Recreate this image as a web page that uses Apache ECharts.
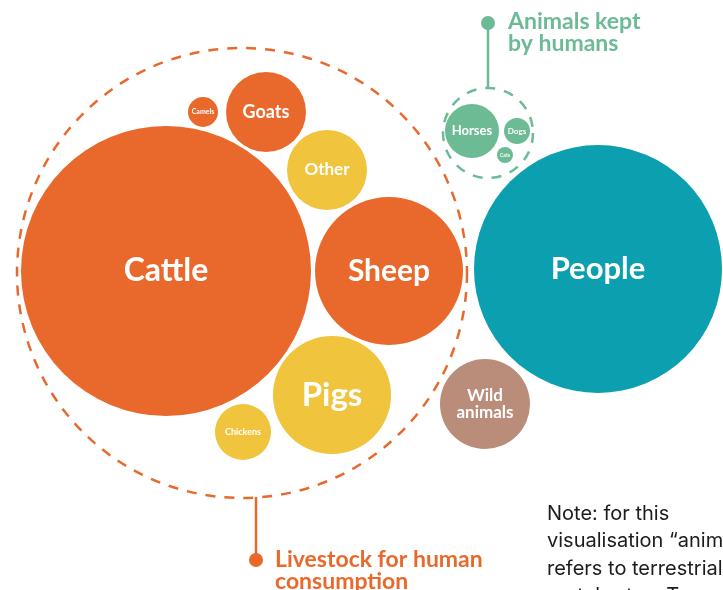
<!DOCTYPE html>
<html><head><meta charset="utf-8">
<script src="https://cdn.jsdelivr.net/npm/echarts@6/dist/echarts.min.js"></script>
<style>html,body{margin:0;padding:0;background:#fff;}#c{width:723px;height:590px;}</style>
</head><body><div id="c"></div>
<script>
// Bubble layout (x, y in chart units; radius in chart units)
const names   = ['Cattle','Sheep','Pigs','Other','Goats','Camels','Chickens','People','Wild\nanimals','Horses','Dogs','Cats'];
const groups  = ['livestock','livestock','livestock2','livestock2','livestock','livestock','livestock2','people','wild','kept','kept','kept'];
const xs      = [166, 389, 332, 327, 266, 203, 243, 598, 485, 472, 517, 505];
const ys      = [271, 271, 395, 170, 112, 112, 432, 269, 404, 131, 131, 155];
const radii   = [145,  74,  59,  40,  40,  15,  28, 124,  45,  27,  13,   8];
const labelSizes = [32, 30, 33, 17, 18, 7, 9, 31, 17, 13, 8, 5];

const groupNames = ['Livestock for human\nconsumption','Animals kept\nby humans'];
const groupX = [242, 488];
const groupY = [273, 133];
const groupR = [225, 45];

const colors = {livestock:'#E8692B', livestock2:'#F0C43C', people:'#0B9FAF', wild:'#B98D7A', kept:'#6CBB95'};

const chart = echarts.init(document.getElementById('c'));
const fontFam = 'Lato, "Open Sans", sans-serif';

const bubbleData = names.map((n,i)=>({
  name:n, value:[xs[i], ys[i]], symbolSize: radii[i]*2,
  itemStyle:{color:colors[groups[i]], opacity:1},
  label:{show:true, formatter:n, fontSize:labelSizes[i], fontWeight:'bold', color:'#fff', fontFamily:fontFam, lineHeight:labelSizes[i]*1.0}
}));

chart.setOption({
  animation:false,
  grid:{left:0,right:0,top:0,bottom:0},
  xAxis:{type:'value',min:0,max:723,show:false},
  yAxis:{type:'value',min:0,max:590,inverse:true,show:false},
  series:[
    {type:'scatter', z:1, data: groupX.map((x,i)=>({value:[x, groupY[i]], symbolSize: groupR[i]*2,
      itemStyle:{color:'rgba(0,0,0,0)', opacity:1, borderColor: i===0?'#E8692B':'#6CBB95', borderWidth:2.5, borderType:[10,9]}})), silent:true},
    {type:'scatter', z:3, data: bubbleData, label:{position:'inside'}},
    {type:'line', z:2, symbol:'none', lineStyle:{color:'#E8692B', width:2.5}, data:[[256,497],[256,560]]},
    {type:'line', z:2, symbol:'none', lineStyle:{color:'#6CBB95', width:2.5}, data:[[488,88],[488,23]]},
    {type:'scatter', z:3, symbolSize:14, data:[{value:[256,560],itemStyle:{color:'#E8692B',opacity:1}},{value:[488,23],itemStyle:{color:'#6CBB95',opacity:1}}]}
  ],
  graphic:[
    {type:'text', left:275, top:548, style:{text:groupNames[0], fill:'#E8692B', font:'bold 23px '+fontFam, lineHeight:22}},
    {type:'text', left:508, top:10, style:{text:groupNames[1], fill:'#6CBB95', font:'bold 23px '+fontFam, lineHeight:22}},
    {type:'text', left:547, top:500, style:{text:'Note: for this\nvisualisation \u201canimals\u201d\nrefers to terrestrial\nvertebrates. Terrestrial', fill:'#1c1c1c', font:'20px Inter, sans-serif', lineHeight:27.5}}
  ]
});
</script></body></html>
